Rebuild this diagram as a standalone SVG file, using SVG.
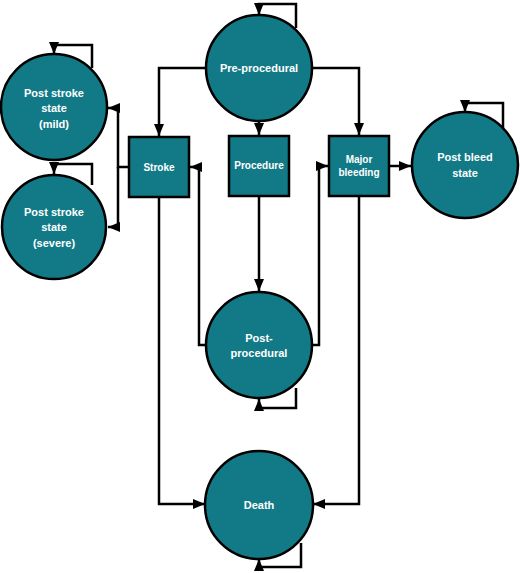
<svg xmlns="http://www.w3.org/2000/svg" width="520" height="573" viewBox="0 0 520 573">
<style>
.n{fill:#127a86;stroke:#000;stroke-width:2.5}
.t{font-family:"Liberation Sans",Arial,sans-serif;font-weight:bold;fill:#fff;text-anchor:middle;font-size:11px}
.s{font-size:10px}
.c{fill:none;stroke:#000;stroke-width:2.5}
</style>
<defs>
<marker id="a" markerUnits="userSpaceOnUse" markerWidth="13" markerHeight="11" refX="12" refY="5" orient="auto" viewBox="0 0 13 11">
<path d="M0,0 L12,5 L0,10 z" fill="#000"/>
</marker>
</defs>
<rect width="520" height="573" fill="#fff"/>
<g id="connectors" class="c" marker-end="url(#a)">
<path d="M296,28 V4 H259 V15"/>
<path d="M206,68 H159 V136"/>
<path d="M259,121 V135"/>
<path d="M312,68 H359 V135"/>
<path d="M389,166 H411"/>
<path d="M503,128 V103 H465 V112"/>
<path d="M129,167 H118 V108 H108"/>
<path d="M118,167 V227 H108"/>
<path d="M92,68 V45 H54 V54"/>
<path d="M92,185 V164 H54 V174"/>
<path d="M259,196 V291"/>
<path d="M205,345 H199 V167 H190"/>
<path d="M313,345 H319 V166 H328"/>
<path d="M296,388 V408 H259 V399"/>
<path d="M159,197 V504 H205"/>
<path d="M359,196 V504 H313"/>
<path d="M301,543 V567 H259 V559"/>
</g>
<g id="pre-procedural"><circle class="n" cx="259" cy="68" r="53"/><text class="t" x="259" y="72">Pre-procedural</text></g>
<g id="post-stroke-mild"><circle class="n" cx="54" cy="107" r="53"/><text class="t" x="54" y="97">Post stroke</text><text class="t" x="54" y="112">state</text><text class="t" x="54" y="128">(mild)</text></g>
<g id="post-stroke-severe"><circle class="n" cx="54" cy="227" r="52"/><text class="t" x="54" y="216">Post stroke</text><text class="t" x="54" y="231">state</text><text class="t" x="54" y="247">(severe)</text></g>
<g id="stroke"><rect class="n" x="129" y="137" width="60" height="60"/><text class="t s" x="159" y="171">Stroke</text></g>
<g id="procedure"><rect class="n" x="229" y="136" width="60" height="60"/><text class="t s" x="259" y="169">Procedure</text></g>
<g id="major-bleeding"><rect class="n" x="329" y="136" width="60" height="60"/><text class="t s" x="359" y="163">Major</text><text class="t s" x="359" y="176">bleeding</text></g>
<g id="post-bleed"><circle class="n" cx="465" cy="165" r="53"/><text class="t" x="465" y="161">Post bleed</text><text class="t" x="465" y="177">state</text></g>
<g id="post-procedural"><circle class="n" cx="259" cy="345" r="53"/><text class="t" x="259" y="342">Post-</text><text class="t" x="259" y="357">procedural</text></g>
<g id="death"><circle class="n" cx="259" cy="505" r="54"/><text class="t" x="259" y="509">Death</text></g>
</svg>
